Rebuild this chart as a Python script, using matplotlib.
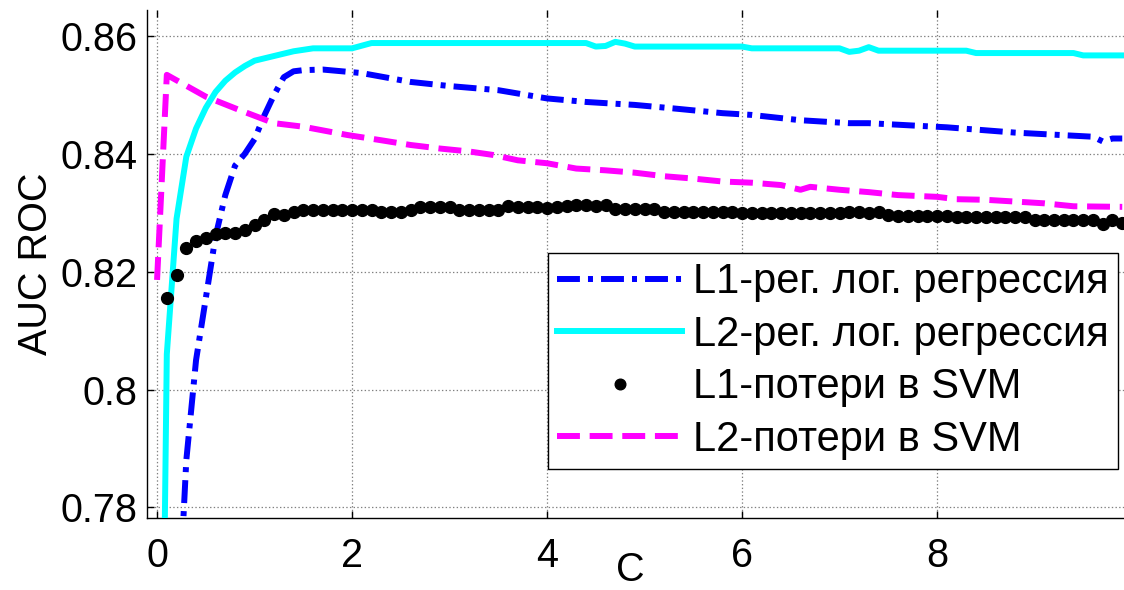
import matplotlib

matplotlib.use("Agg")
import matplotlib.pyplot as plt

plt.rcParams["font.family"] = ["Liberation Sans", "DejaVu Sans"]
plt.rcParams["lines.scale_dashes"] = False

# ---------------------------------------------------------------------------
# data
# ---------------------------------------------------------------------------
labels = [
    "L1-рег. лог. регрессия",
    "L2-рег. лог. регрессия",
    "L1-потери в SVM",
    "L2-потери в SVM",
]

# L1-regularised logistic regression
c_l1_lr = [0.1, 0.2, 0.3, 0.4, 0.5, 0.6, 0.7, 0.8, 0.9, 1.0, 1.1, 1.2, 1.3,
           1.4, 1.5, 1.7, 2.1, 2.4, 2.6, 3.0, 3.5, 4.0, 4.4, 4.9, 5.3, 5.8,
           6.1, 6.6, 7.1, 7.3, 8.1, 8.8, 9.6, 9.7, 9.8, 9.9]
auc_l1_lr = [0.700, 0.755, 0.788, 0.805, 0.8155, 0.826, 0.833, 0.838, 0.840,
             0.8425, 0.8465, 0.850, 0.853, 0.854, 0.8542, 0.8543, 0.8537,
             0.8528, 0.8522, 0.8515, 0.8508, 0.8494, 0.8488, 0.8483, 0.8477,
             0.8469, 0.8466, 0.8457, 0.8452, 0.8452, 0.8445, 0.8436, 0.8429,
             0.8421, 0.8426, 0.8426]

# L2-regularised logistic regression
c_l2_lr = [0.0, 0.1, 0.2, 0.3, 0.4, 0.5, 0.6, 0.7, 0.8, 0.9, 1.0, 1.2, 1.4,
           1.6, 2.0, 2.2, 4.4, 4.5, 4.6, 4.7, 4.8, 4.9, 6.0, 6.1, 7.0, 7.1,
           7.2, 7.3, 7.4, 8.3, 8.4, 9.4, 9.5, 9.9]
auc_l2_lr = [0.667, 0.806, 0.829, 0.8395, 0.8443, 0.8478, 0.8505, 0.8524,
             0.8538, 0.8549, 0.8558, 0.8566, 0.8574, 0.8579, 0.8579, 0.8588,
             0.8588, 0.8582, 0.8583, 0.8590, 0.8587, 0.8582, 0.8582, 0.8579,
             0.8579, 0.8573, 0.8575, 0.8581, 0.8575, 0.8575, 0.8571, 0.8571,
             0.8567, 0.8567]

# L1-loss SVM (one point per C = 0.1 ... 9.9)
c_l1_svm = [round(0.1 * k, 1) for k in range(1, 100)]
auc_l1_svm = [
    0.8156, 0.8194, 0.8240, 0.8252, 0.8257, 0.8264, 0.8266, 0.8266, 0.8271, 0.8279,
    0.8288, 0.8298, 0.8297, 0.8302, 0.8304, 0.8305, 0.8305, 0.8305, 0.8305, 0.8305,
    0.8305, 0.8304, 0.8302, 0.8302, 0.8302, 0.8305, 0.8310, 0.8310, 0.8310, 0.8310,
    0.8305, 0.8305, 0.8304, 0.8304, 0.8305, 0.8311, 0.8310, 0.8310, 0.8309, 0.8308,
    0.8310, 0.8311, 0.8314, 0.8314, 0.8312, 0.8314, 0.8307, 0.8307, 0.8307, 0.8307,
    0.8307, 0.8302, 0.8302, 0.8302, 0.8302, 0.8302, 0.8302, 0.8302, 0.8302, 0.8299,
    0.8299, 0.8299, 0.8299, 0.8299, 0.8299, 0.8299, 0.8299, 0.8299, 0.8299, 0.8299,
    0.8301, 0.8302, 0.8299, 0.8302, 0.8296, 0.8294, 0.8294, 0.8294, 0.8294, 0.8294,
    0.8294, 0.8292, 0.8292, 0.8292, 0.8292, 0.8292, 0.8292, 0.8292, 0.8292, 0.8287,
    0.8287, 0.8287, 0.8287, 0.8287, 0.8287, 0.8287, 0.8281, 0.8288, 0.8283,
]

# L2-loss SVM
c_l2_svm = [0.0, 0.1, 0.5, 0.85, 1.2, 1.5, 1.95, 2.3, 2.6, 2.9, 3.2, 3.45,
            3.7, 4.0, 4.3, 4.6, 4.9, 5.2, 5.5, 5.8, 6.1, 6.4, 6.6, 6.7, 7.0,
            7.3, 7.6, 8.0, 8.2, 8.5, 8.8, 9.1, 9.4, 9.9]
auc_l2_svm = [0.8186, 0.8534, 0.8497, 0.8474, 0.8452, 0.8446, 0.8432, 0.8423,
              0.8415, 0.8409, 0.8404, 0.8398, 0.8389, 0.8384, 0.8375, 0.8372,
              0.8368, 0.8362, 0.8358, 0.8353, 0.8351, 0.8347, 0.8339, 0.8344,
              0.8339, 0.8335, 0.8330, 0.8327, 0.8323, 0.8322, 0.8319, 0.8316,
              0.8311, 0.8310]

x_ticks = [0, 2, 4, 6, 8]
y_ticks = [0.78, 0.80, 0.82, 0.84, 0.86]
y_tick_labels = ["0.78", "0.8", "0.82", "0.84", "0.86"]

# ---------------------------------------------------------------------------
# figure
# ---------------------------------------------------------------------------
fig = plt.figure(figsize=(11.24, 5.9), dpi=100)
ax = fig.add_axes([0.1308, 0.122, 0.8692, 0.861])

ax.plot(c_l1_lr, auc_l1_lr, color="#0000ff", linewidth=4.3,
        dashes=(16.5, 5.8, 3.6, 5.8), solid_capstyle="butt",
        dash_capstyle="butt", label=labels[0], zorder=3)
ax.plot(c_l2_lr, auc_l2_lr, color="#00ffff", linewidth=4.3,
        label=labels[1], zorder=3)
ax.plot(c_l1_svm, auc_l1_svm, linestyle="none", marker="o", markersize=8.5,
        color="black", label=labels[2], zorder=4)
ax.plot(c_l2_svm, auc_l2_svm, color="#ff00ff", linewidth=4.3,
        dashes=(16.5, 7), dash_capstyle="butt", label=labels[3], zorder=3)

ax.set_xlim(-0.103, 9.918)
ax.set_ylim(0.7782, 0.8644)
ax.set_xticks(x_ticks)
ax.set_yticks(y_ticks)
ax.set_yticklabels(y_tick_labels)
ax.grid(True, linestyle=":", color="0.5", linewidth=0.9)

ax.spines["top"].set_visible(False)
ax.spines["right"].set_visible(False)
for side in ("left", "bottom"):
    ax.spines[side].set_linewidth(1.0)
ax.tick_params(direction="in", length=5, width=1.0, labelsize=28.5,
               top=True)
ax.tick_params(axis="x", pad=14)
ax.tick_params(axis="y", pad=7)

ax.set_xlabel("C", fontsize=28.5)
ax.xaxis.set_label_coords(0.495, -0.064)
ax.set_ylabel("AUC ROC", fontsize=28.5, labelpad=4)

leg = ax.legend(loc="upper left", bbox_to_anchor=(548 / 1124, 1 - 253 / 590),
                bbox_transform=fig.transFigure, fontsize=30, frameon=True,
                fancybox=False, edgecolor="black", framealpha=1.0,
                handlelength=3.0, handletextpad=0.25, labelspacing=0.3,
                borderpad=0.22, borderaxespad=0.0, markerscale=0.9)
leg.get_frame().set_linewidth(1.0)

fig.savefig("out.png", dpi=100)
